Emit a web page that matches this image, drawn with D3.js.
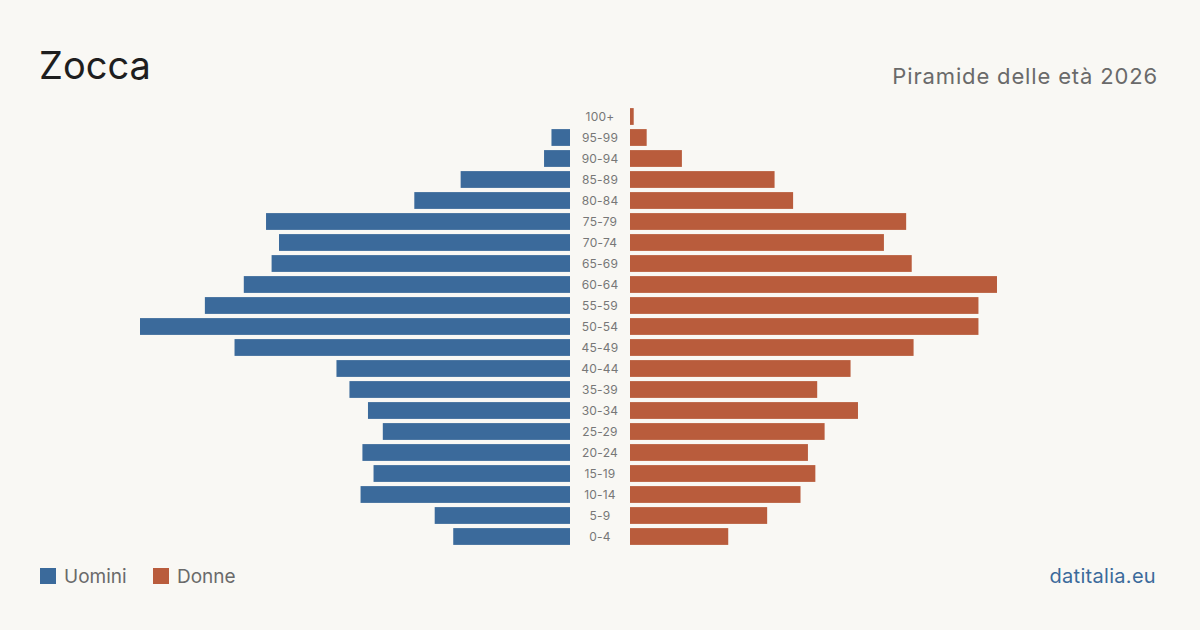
<!DOCTYPE html>
<html><head><meta charset="utf-8">
<script src="https://cdn.jsdelivr.net/npm/d3@7"></script>
<style>
html,body{margin:0;padding:0;background:#f9f8f4;}
svg{display:block;font-family:Inter, "Noto Sans", sans-serif;}
</style></head>
<body>
<svg id="c" width="1200" height="630"></svg>
<script>
const ageGroups = ["100+","95-99","90-94","85-89","80-84","75-79","70-74","65-69","60-64","55-59","50-54","45-49","40-44","35-39","30-34","25-29","20-24","15-19","10-14","5-9","0-4"];
const men   = [0,10,14,59,84,164,157,161,176,197,232,181,126,119,109,101,112,106,113,73,63];
const women = [2,9,28,78,88,149,137,152,198,188,188,153,119,101,123,105,96,100,92,74,53];
const title = "Zocca";
const subtitle = "Piramide delle età 2026";
const legendLabels = ["Uomini","Donne"];
const source = "datitalia.eu";

const colors = {men:"#3b6a9b", women:"#b95c3c"};
const svg = d3.select("#c");
svg.append("rect").attr("width",1200).attr("height",630).attr("fill","#f9f8f4");

const maxV = d3.max(men.concat(women));
const y = d3.scaleBand().domain(ageGroups).range([106,547]).paddingInner(0.2).paddingOuter(0.1);
const xL = d3.scaleLinear().domain([0,maxV]).range([570,140]);
const xR = d3.scaleLinear().domain([0,maxV]).range([630,1060]);

svg.append("g").selectAll("rect").data(ageGroups).join("rect")
  .attr("x",(d,i)=>xL(men[i])).attr("y",d=>y(d))
  .attr("width",(d,i)=>xL(0)-xL(men[i])).attr("height",y.bandwidth())
  .attr("fill",colors.men);
svg.append("g").selectAll("rect").data(ageGroups).join("rect")
  .attr("x",xR(0)).attr("y",d=>y(d))
  .attr("width",(d,i)=>xR(women[i])-xR(0)).attr("height",y.bandwidth())
  .attr("fill",colors.women);

svg.append("g").selectAll("text").data(ageGroups).join("text")
  .attr("x",600).attr("y",d=>y(d)+y.bandwidth()/2)
  .attr("dy","0.36em").attr("text-anchor","middle")
  .attr("font-size",12).attr("letter-spacing",0.2).attr("fill","#777").text(d=>d);

svg.append("text").attr("x",39).attr("y",79).attr("font-size",38).attr("fill","#1e1e1e").text(title);
svg.append("text").attr("x",1158).attr("y",84).attr("text-anchor","end").attr("font-size",22)
  .attr("letter-spacing",0.85).attr("fill","#6a6a6a").text(subtitle);

const lg = svg.append("g");
[[40,colors.men,legendLabels[0]],[153,colors.women,legendLabels[1]]].forEach(([x,c,t])=>{
  lg.append("rect").attr("x",x).attr("y",568).attr("width",16).attr("height",16).attr("fill",c);
  lg.append("text").attr("x",x+24).attr("y",583).attr("font-size",19).attr("fill","#6a6a6a").text(t);
});
svg.append("text").attr("x",1156).attr("y",583).attr("text-anchor","end").attr("font-size",20)
  .attr("letter-spacing",0.3).attr("fill","#3b6a9b").text(source);
</script>
</body></html>
